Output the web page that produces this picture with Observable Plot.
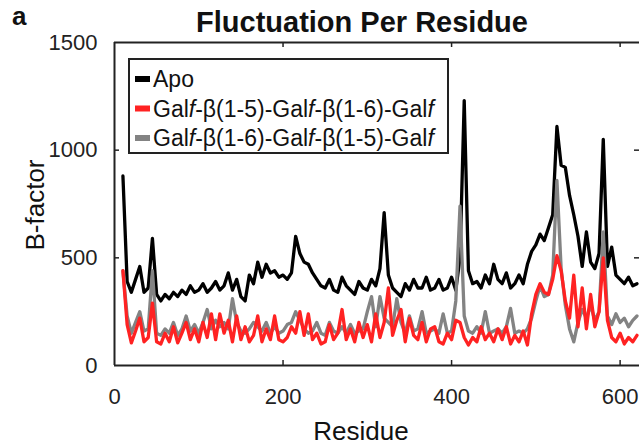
<!DOCTYPE html>
<html><head><meta charset="utf-8">
<script src="https://cdn.jsdelivr.net/npm/d3@7"></script>
<script src="https://cdn.jsdelivr.net/npm/@observablehq/plot@0.6"></script>
<style>html,body{margin:0;padding:0;background:#fff;} #chart{position:relative;width:639px;height:446px;overflow:hidden}</style>
</head><body><div id="chart"></div>
<script>
const residues = [10,15,20,25,30,35,40,45,50,55,60,65,70,75,80,85,90,95,100,105,110,115,120,125,130,135,140,145,150,155,160,165,170,175,180,185,190,195,200,205,210,215,220,225,230,235,240,245,250,255,260,265,270,275,280,285,290,295,300,305,310,315,320,325,330,335,340,345,350,355,360,365,370,375,380,385,390,395,400,405,410,415,420,425,430,435,440,445,450,455,460,465,470,475,480,485,490,495,500,505,510,515,520,525,530,535,540,545,550,555,560,565,570,575,580,585,590,595,600,605,610,615,620];
const apo = [880,390,340,400,460,340,360,590,330,300,
330,310,340,320,350,330,370,340,350,380,
340,360,390,350,370,430,350,400,320,300,
420,380,480,410,470,430,440,410,420,400,
430,600,520,480,470,430,400,370,360,400,
350,340,410,370,350,330,390,360,350,400,
370,450,710,420,360,340,320,380,350,400,
360,360,410,350,360,400,350,360,410,350,
500,1230,440,380,390,360,420,380,470,400,
380,430,360,380,420,380,470,530,560,610,
580,640,700,1110,930,920,790,700,600,460,
620,480,450,520,1050,460,550,420,400,380,
410,370,380];
const galf15_16 = [440,190,105,160,220,110,130,290,110,100,
150,110,180,105,150,200,120,170,110,200,
130,240,120,240,150,210,110,230,120,180,
110,140,230,110,170,120,230,120,110,130,
180,150,250,140,240,120,150,100,110,190,
120,150,260,120,170,110,200,130,190,110,
240,130,200,360,140,210,260,110,220,140,
120,200,110,170,180,110,100,150,120,210,
200,130,95,130,110,180,120,150,110,170,
120,180,100,140,110,160,95,240,330,380,
340,330,400,510,440,300,220,420,180,360,
170,330,180,250,500,210,130,110,150,100,
130,110,140];
const galf16_15 = [440,230,150,200,250,160,170,440,150,140,
170,150,200,140,170,230,160,190,150,200,
260,170,210,180,200,170,310,200,160,150,
170,200,180,160,200,150,180,150,160,190,
200,250,210,170,150,160,200,150,140,200,
160,150,180,150,190,150,160,170,250,320,
180,320,220,200,180,310,200,150,230,160,
170,250,150,160,170,150,240,150,160,300,
740,230,160,150,180,150,250,150,160,170,
150,180,265,150,160,150,170,220,300,370,
320,330,420,860,450,280,170,110,200,260,
220,280,210,250,620,230,190,240,200,220,
180,210,230];
const seriesNames = ["Apo", "Galf-β(1-5)-Galf-β(1-6)-Galf", "Galf-β(1-6)-Galf-β(1-5)-Galf"];
const seriesColors = ["#000000", "#ff2222", "#838383"];
const xTicks = [0, 200, 400, 600];
const yTicks = [0, 500, 1000, 1500];

const W = 639, H = 446, mL = 114, mT = 42, mB = 81, mR = 0;
const plotH = H - mT - mB, plotW = W - mL - mR;
const FONT = "Arial, 'Liberation Sans', sans-serif";

const toRows = (vals) => residues.map((r, i) => ({r, v: vals[i]}));
const lineOpts = (c) => ({x: "r", y: "v", stroke: c, strokeWidth: 3.3, strokeLinejoin: "round", strokeLinecap: "round"});

const plot = Plot.plot({
  width: W, height: H,
  marginLeft: mL, marginRight: mR, marginTop: mT, marginBottom: mB,
  style: {fontFamily: FONT, fontSize: "22px", color: "#222", background: "#fff"},
  x: {domain: [0, 623], ticks: xTicks, tickFormat: d => String(d), tickSize: 0, tickPadding: 23, label: null},
  y: {domain: [0, 1500], ticks: yTicks, tickFormat: d => String(d), tickSize: 0, tickPadding: 17, label: null},
  marks: [
    Plot.line(toRows(apo), lineOpts(seriesColors[0])),
    Plot.line(toRows(galf16_15), lineOpts(seriesColors[2])),
    Plot.line(toRows(galf15_16), lineOpts(seriesColors[1])),
    Plot.tickX(xTicks.filter(d => d > 0), {x: d => d, insetTop: plotH - 5, stroke: "#222", strokeWidth: 1.5}),
    Plot.tickX(xTicks.filter(d => d > 0), {x: d => d, insetBottom: plotH - 5, stroke: "#222", strokeWidth: 1.5}),
    Plot.tickY(yTicks.filter(d => d > 0 && d < 1500), {y: d => d, insetRight: plotW - 5, stroke: "#222", strokeWidth: 1.5}),
    Plot.tickY(yTicks.filter(d => d > 0 && d < 1500), {y: d => d, insetLeft: plotW - 5, stroke: "#222", strokeWidth: 1.5}),
    Plot.ruleX([0], {stroke: "#222", strokeWidth: 2}),
    Plot.ruleY([0, 1500], {stroke: "#222", strokeWidth: 2})
  ]
});
document.getElementById("chart").appendChild(plot);

const svg = d3.select(plot);
const txt = (x, y, s, size, weight, anchor) => svg.append("text")
  .attr("x", x).attr("y", y).attr("font-family", FONT).attr("font-size", size)
  .attr("font-weight", weight).attr("text-anchor", anchor).attr("fill", "#111").text(s);

txt(12, 25, "a", 26, "bold", "start");
txt(362, 32, "Fluctuation Per Residue", 29, "bold", "middle");
txt(361, 440, "Residue", 26, "normal", "middle");
svg.append("text").attr("transform", "translate(44,205) rotate(-90)")
  .attr("font-family", FONT).attr("font-size", 26).attr("text-anchor", "middle").attr("fill", "#111").text("B-factor");

// legend
const lg = svg.append("g").attr("text-anchor", "start");
lg.append("rect").attr("x", 129).attr("y", 59).attr("width", 319).attr("height", 94)
  .attr("fill", "#fff").attr("stroke", "#222").attr("stroke-width", 2);
[0, 1, 2].forEach((k, i) => {
  const cy = 79 + i * 29.5;
  lg.append("rect").attr("x", 135).attr("y", cy - 3).attr("width", 15).attr("height", 6).attr("fill", seriesColors[k]);
  const t = lg.append("text").attr("x", 153).attr("y", cy + 8).attr("text-anchor", "start")
    .attr("font-family", FONT).attr("font-size", 23).attr("fill", "#111");
  const parts = seriesNames[k].split(/(Galf)/).filter(p => p.length);
  parts.forEach(p => {
    if (p === "Galf") {
      t.append("tspan").text("Gal");
      t.append("tspan").attr("font-style", "italic").text("f");
    } else {
      t.append("tspan").text(p);
    }
  });
});
</script>
</body></html>
